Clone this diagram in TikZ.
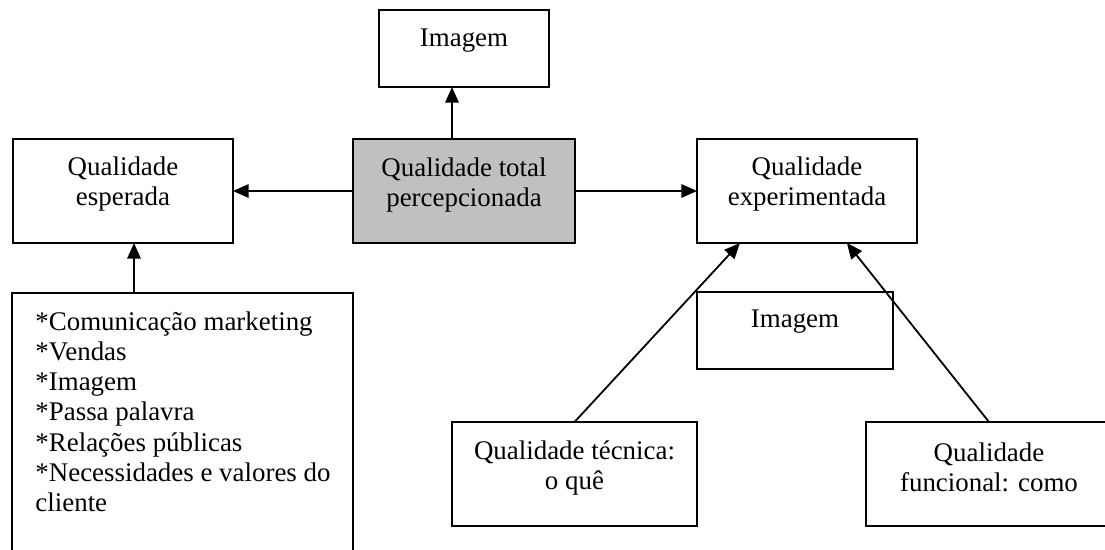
\documentclass[tikz,border=0pt]{standalone}
\usepackage{fontspec}
\setmainfont{Liberation Serif}
\usetikzlibrary{arrows.meta}
\begin{document}
\begin{tikzpicture}[x=0.446pt,y=-0.446pt,
  box/.style={draw, line width=0.8pt, inner sep=0pt, outer sep=0pt, fill=white},
  txt/.style={inner sep=0pt, align=center, font=\fontsize{12}{13.5}\selectfont},
  arr/.style={line width=0.8pt, -{Triangle[length=7pt,width=6pt]}}]
\useasboundingbox (0,0) rectangle (1105,549);
\clip (0,0) rectangle (1105,549);
% boxes
\node[box, minimum width=75.82pt, minimum height=34.34pt] (img1) at (464,48.5) {};
\node[box, fill={rgb,255:red,192;green,192;blue,192}, minimum width=99.01pt, minimum height=46.38pt] (tot) at (464,191) {};
\node[box, minimum width=98.12pt, minimum height=46.38pt] (esp) at (123,191) {};
\node[box, minimum width=98.12pt, minimum height=46.38pt] (exp) at (807,191) {};
\node[box, minimum width=87.42pt, minimum height=34.34pt] (img2) at (795,330.5) {};
\node[box, minimum width=109.27pt, minimum height=46.38pt] (tec) at (574.5,474) {};
\node[box, minimum width=109.72pt, minimum height=46.38pt] (fun) at (989,474) {};
\node[box, minimum width=152.09pt, minimum height=119.08pt] (lst) at (182.5,426.5) {};
% arrows
\draw[arr] ([xshift=-5.35pt]tot.north) -- ([xshift=-5.35pt]img1.south);
\draw[arr] (tot.west) -- (esp.east);
\draw[arr] (tot.east) -- (exp.west);
\draw[arr] ([xshift=4.9pt]esp.south |- lst.north) -- ([xshift=4.9pt]esp.south);
\draw[arr] (tec.north) -- ([xshift=-29.9pt]exp.south);
\draw[arr] (fun.north) -- ([xshift=17.8pt]exp.south);
% texts
\node[txt] (t1) at (464,40.5) {Imagem};
\node[txt] (t2) at (464,185) {Qualidade total\\percepcionada};
\node[txt] (t3) at (123,184) {Qualidade\\esperada};
\node[txt] (t4) at (807,184) {Qualidade\\experimentada};
\node[txt] (t5) at (795,321.5) {Imagem};
\node[txt] (t6) at (574.5,468) {Qualidade técnica:\\o quê};
\node[txt] (t7) at (989,467) {Qualidade\\funcional: como};
\node[txt, align=left, anchor=north west] (t8) at (35,311) {*Comunicação marketing\\*Vendas\\*Imagem\\*Passa palavra\\*Relações públicas\\*Necessidades e valores do\\cliente};
\end{tikzpicture}
\end{document}
